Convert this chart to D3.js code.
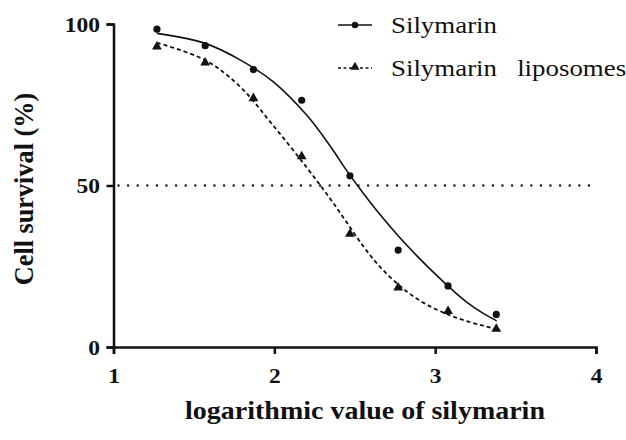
<!DOCTYPE html>
<html>
<head>
<meta charset="utf-8">
<script src="https://cdn.jsdelivr.net/npm/d3@7"></script>
<style>
  body { margin: 0; background: #fff; }
  svg text { fill: #111; }
</style>
</head>
<body>
<div id="chart"></div>
<script>
// log10 of concentration
const logDose = [1.27, 1.57, 1.87, 2.17, 2.47, 2.77, 3.08, 3.38];
// measured survival (%)
const silymarin = [98.4, 93.3, 85.9, 76.4, 53.0, 30.0, 18.9, 10.1];
const liposomes = [93.0, 88.0, 77.0, 59.0, 35.0, 18.4, 11.1, 5.6];

// fitted curves
const fitX = [1.27, 1.57, 1.787, 1.994, 2.201, 2.346, 2.45, 2.553, 2.657, 2.781, 2.885, 2.988, 3.092, 3.196, 3.299, 3.383];
const silymarinFit = [97.1, 94.0, 88.9, 82.1, 71.8, 62.3, 54.6, 47.6, 41.0, 33.8, 28.3, 23.2, 18.3, 13.9, 10.4, 8.1];
const liposomesFit = [94.2, 88.8, 80.6, 68.5, 55.6, 46.0, 38.6, 31.2, 24.8, 18.9, 15.0, 12.1, 9.8, 8.0, 6.6, 5.5];

const xTicks = [1, 2, 3, 4];
const yTicks = [0, 50, 100];
const seriesNames = ["Silymarin", "Silymarin  liposomes"];

const width = 626, height = 440;
const stretch = 1.12; // the original text is a bit wide
const serif = "'Times New Roman', Times, 'Liberation Serif', serif";

const svg = d3.select("#chart").append("svg")
    .attr("width", width)
    .attr("height", height);

const x = d3.scaleLinear().domain([1, 4]).range([113.5, 596]);
const y = d3.scaleLinear().domain([0, 100]).range([347, 24]);

// axes
const xAxis = svg.append("g")
    .attr("transform", `translate(0,${y(0)})`)
    .call(d3.axisBottom(x).tickValues(xTicks).tickFormat(d3.format("d")).tickSize(7).tickPadding(14));
const yAxis = svg.append("g")
    .attr("transform", `translate(${x(1)},0)`)
    .call(d3.axisLeft(y).tickValues(yTicks).tickSize(7).tickPadding(5));

[xAxis, yAxis].forEach(g => {
    g.attr("font-family", null);
    g.select(".domain").attr("stroke", "#111").attr("stroke-width", 2.5);
    g.selectAll(".tick line").attr("stroke", "#111").attr("stroke-width", 2.5);
    g.selectAll(".tick text")
        .attr("font-weight", "bold")
        .attr("font-size", 21)
        .attr("transform", `scale(${stretch},1)`);
});
yAxis.selectAll(".tick text").attr("dy", "0.34em");

// 50% reference line
svg.append("line")
    .attr("x1", x(1) + 5).attr("x2", x(4))
    .attr("y1", y(50)).attr("y2", y(50))
    .attr("stroke", "#111")
    .attr("stroke-width", 2.4)
    .attr("stroke-linecap", "round")
    .attr("stroke-dasharray", "0 9.6");

// fitted curves
const line = d3.line()
    .x(d => x(d[0]))
    .y(d => y(d[1]))
    .curve(d3.curveCatmullRom.alpha(0.5));

svg.append("path")
    .datum(d3.zip(fitX, silymarinFit))
    .attr("d", line)
    .attr("fill", "none")
    .attr("stroke", "#111")
    .attr("stroke-width", 1.6);

svg.append("path")
    .datum(d3.zip(fitX, liposomesFit))
    .attr("d", line)
    .attr("fill", "none")
    .attr("stroke", "#111")
    .attr("stroke-width", 1.8)
    .attr("stroke-dasharray", "4 3");

// markers
const tri = d3.symbol().type(d3.symbolTriangle).size(42);

svg.selectAll(".dot")
    .data(d3.zip(logDose, silymarin))
    .enter().append("circle")
    .attr("class", "dot")
    .attr("cx", d => x(d[0]))
    .attr("cy", d => y(d[1]))
    .attr("r", 3.6)
    .attr("fill", "#111");

svg.selectAll(".tri")
    .data(d3.zip(logDose, liposomes))
    .enter().append("path")
    .attr("class", "tri")
    .attr("transform", d => `translate(${x(d[0])},${y(d[1])})`)
    .attr("d", tri)
    .attr("fill", "#111");

// legend
const legend = svg.append("g");
const rows = [25, 68];
legend.append("line")
    .attr("x1", 338).attr("x2", 372).attr("y1", rows[0]).attr("y2", rows[0])
    .attr("stroke", "#111").attr("stroke-width", 1.6);
legend.append("circle")
    .attr("cx", 355).attr("cy", rows[0]).attr("r", 3.2).attr("fill", "#111");
legend.append("line")
    .attr("x1", 338).attr("x2", 372).attr("y1", rows[1]).attr("y2", rows[1])
    .attr("stroke", "#111").attr("stroke-width", 1.6).attr("stroke-dasharray", "3 2.5");
legend.append("path")
    .attr("transform", `translate(355,${rows[1] - 1})`)
    .attr("d", d3.symbol().type(d3.symbolTriangle).size(36))
    .attr("fill", "#111");
legend.selectAll(".ltext")
    .data(seriesNames)
    .enter().append("text")
    .attr("class", "ltext")
    .attr("transform", (d, i) => `translate(391,${rows[i]}) scale(${stretch},1)`)
    .attr("dy", "0.33em")
    .attr("font-size", 24)
    .attr("word-spacing", 3)
    .attr("xml:space", "preserve")
    .style("white-space", "pre")
    .text(d => d);

// axis titles
svg.append("text")
    .attr("transform", `translate(365,419) scale(${stretch},1)`)
    .attr("text-anchor", "middle")
    .attr("font-weight", "bold")
    .attr("font-size", 25)
    .text("logarithmic value of silymarin");

svg.append("text")
    .attr("transform", "translate(33,189) rotate(-90) scale(1.05,1.12)")
    .attr("text-anchor", "middle")
    .attr("font-weight", "bold")
    .attr("font-size", 25)
    .text("Cell survival (%)");

// same serif face everywhere
svg.selectAll("text").style("font-family", serif);
</script>
</body>
</html>
